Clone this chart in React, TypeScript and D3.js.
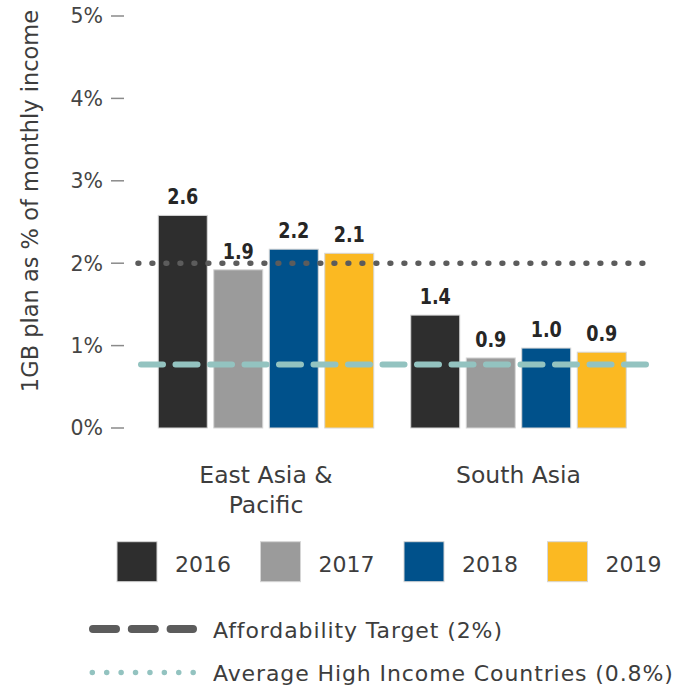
import React from "react";
import * as d3 from "d3";

const groups = ["East Asia & Pacific", "South Asia"];
const groupLabelLines = [["East Asia &", "Pacific"], ["South Asia"]];
const years = ["2016", "2017", "2018", "2019"];
const yearColors = ["#2e2e2e", "#9b9b9b", "#00518b", "#fbb922"];
const valuesEAP = [2.58, 1.92, 2.17, 2.12];
const valuesSA = [1.37, 0.85, 0.97, 0.92];
const labelsEAP = ["2.6", "1.9", "2.2", "2.1"];
const labelsSA = ["1.4", "0.9", "1.0", "0.9"];
const yTicks = [0, 1, 2, 3, 4, 5];
const targetValue = 2;
const highIncomeValue = 0.77;
const yTitle = "1GB plan as % of monthly income";
const legendLines = ["Affordability Target (2%)", "Average High Income Countries (0.8%)"];

const W = 688;
const H = 687;
const FONT = "'DejaVu Sans', 'Open Sans', sans-serif";

export default function App() {
  const y = d3.scaleLinear().domain([0, 5]).range([428, 16]);
  const x0 = d3.scaleBand<string>().domain(groups).range([133, 651.5]).paddingInner(0.1465).paddingOuter(0.1);
  const x1 = d3.scaleBand<string>().domain(years).range([0, x0.bandwidth()]).paddingInner(0.117).paddingOuter(0);
  const series = [valuesEAP, valuesSA];
  const labels = [labelsEAP, labelsSA];
  const lineX0 = 138;
  const lineX1 = 650;
  const legendX = d3.scaleLinear().domain([0, 1]).range([117, 260.5]);

  return (
    <svg width={W} height={H} style={{ position: "absolute", left: 0, top: 0, background: "#fff" }}>
      <text
        transform={`translate(38, ${201}) rotate(-90)`}
        textAnchor="middle"
        fontFamily={FONT}
        fontSize={22.5}
        fill="#3d3d3d"
      >
        {yTitle}
      </text>
      {yTicks.map((t) => (
        <g key={t} transform={`translate(0, ${y(t)})`}>
          <line x1={111} x2={124} stroke="#8a8a8a" strokeWidth={1.5} />
          <text x={103} dy="0.36em" textAnchor="end" fontFamily={FONT} fontSize={20.5} fill="#454545">
            {`${t}%`}
          </text>
        </g>
      ))}
      {groups.map((g, gi) => (
        <g key={g} transform={`translate(${x0(g)}, 0)`}>
          {years.map((yr, i) => {
            const v = series[gi][i];
            const bx = x1(yr)!;
            const cx = bx + x1.bandwidth() / 2;
            return (
              <g key={yr}>
                <rect
                  x={bx}
                  y={y(v)}
                  width={x1.bandwidth()}
                  height={y(0) - y(v)}
                  fill={yearColors[i]}
                  stroke="#d6d6d6"
                  strokeWidth={1}
                />
                <g transform={`translate(${cx}, ${y(v) - 11}) scale(0.8, 1)`}>
                  <text
                    x={0}
                    y={0}
                    textAnchor="middle"
                    fontFamily={FONT}
                    fontWeight="bold"
                    fontSize={22}
                    fill="#262626"
                  >
                    {labels[gi][i]}
                  </text>
                </g>
              </g>
            );
          })}
          {groupLabelLines[gi].map((ln, li) => (
            <text
              key={li}
              x={x0.bandwidth() / 2}
              y={483 + li * 29.5}
              textAnchor="middle"
              fontFamily={FONT}
              fontSize={23.5}
              fill="#3d3d3d"
            >
              {ln}
            </text>
          ))}
        </g>
      ))}
      <line
        x1={lineX0}
        x2={lineX1}
        y1={y(targetValue)}
        y2={y(targetValue)}
        stroke="#5c5c5c"
        strokeWidth={5.5}
        strokeDasharray="0.8 13.2"
        strokeLinecap="round"
      />
      <line
        x1={lineX0 + 3}
        x2={lineX1}
        y1={y(highIncomeValue)}
        y2={y(highIncomeValue)}
        stroke="#93c3c0"
        strokeWidth={6}
        strokeDasharray="22 12.5"
        strokeLinecap="round"
      />
      {years.map((yr, i) => (
        <g key={yr} transform={`translate(${legendX(i)}, 0)`}>
          <rect x={0} y={541.7} width={40} height={40} fill={yearColors[i]} stroke="#d6d6d6" strokeWidth={1} />
          <text x={58} y={571.7} fontFamily={FONT} fontSize={22} fill="#3d3d3d">
            {yr}
          </text>
        </g>
      ))}
      <line x1={93} x2={193} y1={629} y2={629} stroke="#5c5c5c" strokeWidth={8} strokeDasharray="23 15.8" strokeLinecap="round" />
      <text x={213} y={638} fontFamily={FONT} fontSize={22} letterSpacing={0.9} fill="#3d3d3d">
        {legendLines[0]}
      </text>
      <line x1={92.3} x2={194} y1={672.5} y2={672.5} stroke="#93c3c0" strokeWidth={5.5} strokeDasharray="0.01 14.4" strokeLinecap="round" />
      <text x={213} y={680.5} fontFamily={FONT} fontSize={22} letterSpacing={0.9} fill="#3d3d3d">
        {legendLines[1]}
      </text>
    </svg>
  );
}
